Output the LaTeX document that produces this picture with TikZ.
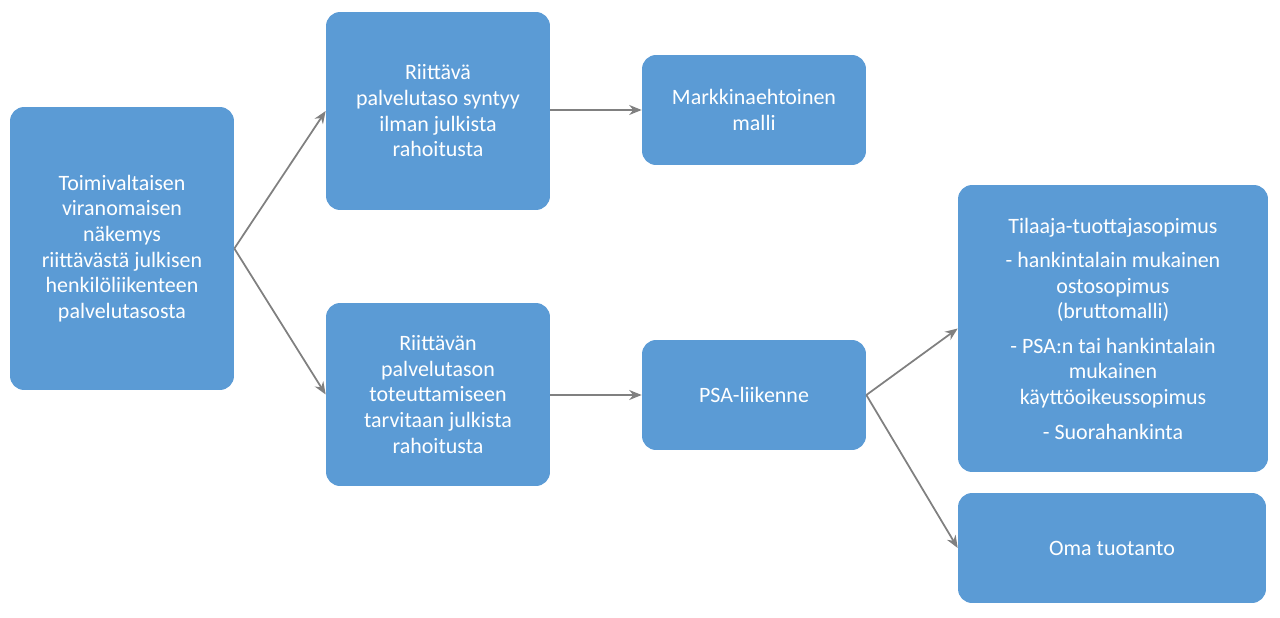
\documentclass[tikz,border=0pt]{standalone}
\usepackage{fontspec}
\setmainfont{Carlito}
\usetikzlibrary{positioning, arrows.meta}
\definecolor{boxblue}{HTML}{5B9BD5}
\definecolor{arrowgray}{HTML}{808080}
\begin{document}
\begin{tikzpicture}[x=0.02cm, y=-0.02cm,
    box/.style={rectangle, rounded corners=8pt, fill=boxblue, text=white,
                align=center, inner sep=2pt, font=\fontsize{12.5}{14.6}\selectfont},
    arrow/.style={-{Stealth[length=2.5mm, width=2mm]}, draw=arrowgray, line width=1pt}
]
    \useasboundingbox (0,0) rectangle (1280,618);

    % Left column
    \node[box, minimum width=4.48cm, minimum height=5.66cm] (view) at (122,248.5)
        {Toimivaltaisen\\viranomaisen\\näkemys\\riittävästä julkisen\\henkilöliikenteen\\palvelutasosta};

    % Middle column
    \node[box, minimum width=4.48cm, minimum height=3.96cm] (nofund) at (438,111)
        {Riittävä\\palvelutaso syntyy\\ilman julkista\\rahoitusta};
    \node[box, minimum width=4.48cm, minimum height=3.66cm] (fund) at (438,394.5)
        {Riittävän\\palvelutason\\toteuttamiseen\\tarvitaan julkista\\rahoitusta};

    % Third column
    \node[box, minimum width=4.48cm, minimum height=2.2cm] (market) at (754,110)
        {Markkinaehtoinen\\malli};
    \node[box, minimum width=4.48cm, minimum height=2.2cm] (psa) at (754,395)
        {PSA-liikenne};

    % Right column
    \node[box, minimum width=6.2cm, minimum height=5.74cm] (contract) at (1113,328.5)
        {Tilaaja-tuottajasopimus\\[5pt]
         - hankintalain mukainen\\ostosopimus\\(bruttomalli)\\[5pt]
         - PSA:n tai hankintalain\\mukainen\\käyttöoikeussopimus\\[5pt]
         - Suorahankinta};
    \node[box, minimum width=6.16cm, minimum height=2.2cm] (own) at (1112,548)
        {Oma tuotanto};

    % Arrows
    \draw[arrow] (view.east) -- (nofund.west);
    \draw[arrow] (view.east) -- (fund.west);
    \draw[arrow] (nofund.east |- market) -- (market.west);
    \draw[arrow] (fund.east |- psa) -- (psa.west);
    \draw[arrow] (psa.east) -- (contract.west);
    \draw[arrow] (psa.east) -- (own.west);
\end{tikzpicture}
\end{document}
